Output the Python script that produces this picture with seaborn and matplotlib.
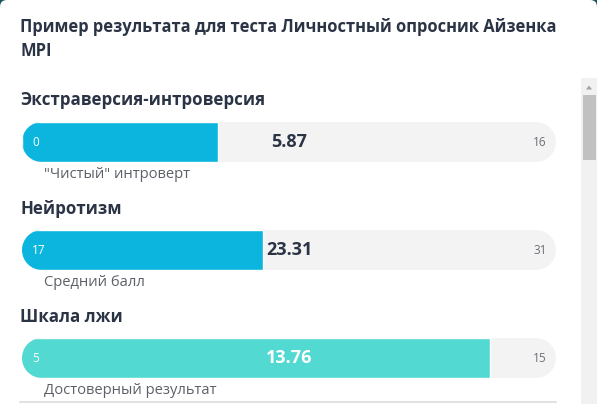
import matplotlib
matplotlib.use("Agg")
import numpy as np
import matplotlib.pyplot as plt
import seaborn as sns
import pandas as pd
from matplotlib.patches import FancyBboxPatch, Rectangle, Polygon, PathPatch
from matplotlib.path import Path
from matplotlib.transforms import Affine2D

# ---------------- data ----------------
title_lines = ["Пример результата для теста Личностный опросник Айзенка", "MPI"]
scales = ["Экстраверсия-интроверсия", "Нейротизм", "Шкала лжи"]
scale_min = [0, 17, 5]
scale_max = [16, 31, 15]
scores = [5.87, 23.31, 13.76]
verdicts = ['"Чистый" интроверт', "Средний балл", "Достоверный результат"]

# ---------------- style ----------------
bar_colors = ["#0cb5de", "#0cb5de", "#52d9d2"]
track_color = "#f3f3f3"
dark = "#2b3445"
grey_text = "#5c6068"

W, H, DPI = 597, 404, 100
sns.set_theme(style="white")
plt.rcParams["font.family"] = ["Open Sans", "DejaVu Sans"]

fig = plt.figure(figsize=(W / DPI, H / DPI), dpi=DPI)
fig.patch.set_facecolor("#1d5663")

bg = fig.add_axes([0, 0, 1, 1])
bg.set_xlim(0, W)
bg.set_ylim(H, 0)
bg.axis("off")
bg.patch.set_visible(False)
bg.add_patch(FancyBboxPatch((0, 0), W, H + 30, boxstyle="round,pad=0,rounding_size=7",
                            fc="white", ec="none", zorder=0))

fig.canvas.draw()
renderer = fig.canvas.get_renderer()


def fit(t, target_w, size0=10):
    t.set_fontsize(size0)
    w = t.get_window_extent(renderer).width
    t.set_fontsize(size0 * target_w / w)
    return t.get_fontsize()


def pill_path(w, h):
    r = h / 2
    a1 = Path.arc(-90, 90)
    a2 = Path.arc(90, 270)
    v1 = a1.vertices * r + np.array([w - r, r])
    v2 = a2.vertices * r + np.array([r, r])
    verts = np.concatenate([v1, v2, v1[:1]])
    codes = np.concatenate([a1.codes, a2.codes, [Path.CLOSEPOLY]])
    codes[len(a1.codes)] = Path.LINETO
    return Path(verts, codes)


# title
t1 = bg.text(20, 27, title_lines[0], ha="left", va="center", fontweight="bold", color=dark)
ts = fit(t1, 542)
bg.text(20, 51, title_lines[1], ha="left", va="center", fontweight="bold", color=dark, fontsize=ts)

# scrollbar
bg.add_patch(Rectangle((581, 78), 16, 340, fc="#f1f1f1", ec="none"))
bg.add_patch(Rectangle((583, 95), 13, 65, fc="#c1c1c1", ec="none"))
bg.add_patch(Polygon([(586, 89.5), (592, 89.5), (589, 85.5)], closed=True, fc="#a3a3a3", ec="none"))

# bottom divider
bg.plot([20, 556], [402, 402], color="#e2e2e2", lw=1.5)

header_y = [100, 209, 317]
bar_top = [122, 230, 338]
verdict_y = [175, 282, 390]
BAR_L, BAR_W, BAR_H = 22, 534, 40

hs = None
vs = None
valsize = None
for i in range(len(scales)):
    th = bg.text(20, header_y[i], scales[i], ha="left", va="center", fontweight="bold", color=dark)
    if hs is None:
        hs = fit(th, 245)
    th.set_fontsize(hs)

    tv = bg.text(44, verdict_y[i], verdicts[i], ha="left", va="center", color=grey_text)
    if vs is None:
        vs = fit(tv, 146)
    tv.set_fontsize(vs)

    ax = fig.add_axes([BAR_L / W, 1 - (bar_top[i] + BAR_H) / H, BAR_W / W, BAR_H / H])
    df = pd.DataFrame({"scale": [scales[i]], "score": [scores[i]]})
    sns.barplot(data=df, x="score", y="scale", orient="h", color=bar_colors[i],
                saturation=1, width=1, ax=ax)
    bars = list(ax.patches)
    pill_tr = Affine2D().scale(1 / BAR_W, 1 / BAR_H) + ax.transAxes
    pill = PathPatch(pill_path(BAR_W, BAR_H), fc=track_color, ec="none",
                     transform=pill_tr, zorder=0.5)
    ax.add_patch(pill)
    for b in bars:
        b.set_clip_path(pill)
        b.set_zorder(1)
    ax.set_xlim(scale_min[i], scale_max[i])
    ax.set_ylim(0.5, -0.5)
    ax.axis("off")

    ax.text(10 / BAR_W, 0.5, str(scale_min[i]), transform=ax.transAxes, ha="left", va="center",
            color="white", fontsize=8.5)
    ax.text(1 - 9 / BAR_W, 0.5, str(scale_max[i]), transform=ax.transAxes, ha="right", va="center",
            color="#6b6f75", fontsize=8.5)
    mid = (scale_min[i] + scale_max[i]) / 2
    vcol = "white" if scores[i] > mid else dark
    tval = ax.text(mid, 0, f"{scores[i]:.2f}", ha="center", va="center", fontweight="bold", color=vcol)
    if valsize is None:
        valsize = fit(tval, 36)
    tval.set_fontsize(valsize)

fig.savefig("out.png", dpi=DPI)
